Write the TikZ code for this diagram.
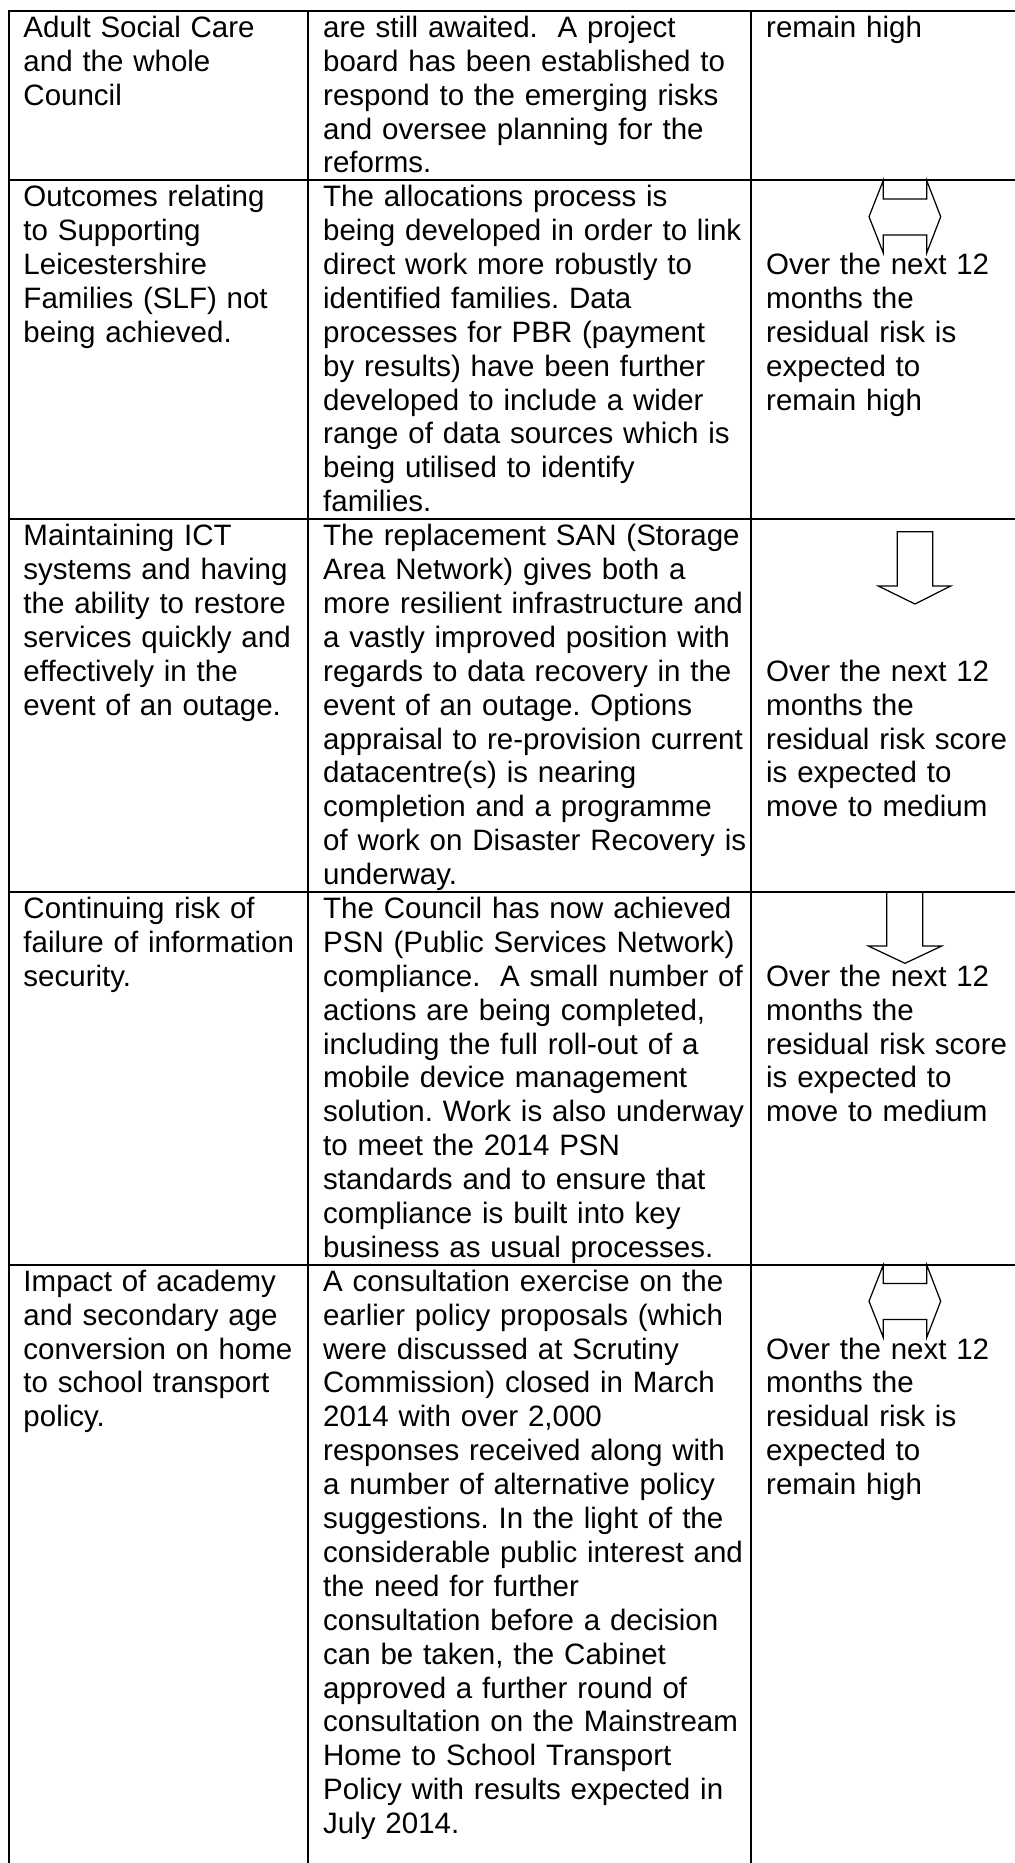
\documentclass[tikz,border=0pt]{standalone}
\usepackage{fontspec}
\setmainfont{Liberation Sans}
\usepackage{tikz}
\frenchspacing

\begin{document}
\begin{tikzpicture}[x=0.4068pt, y=-0.4068pt,
  cell/.style={anchor=base west, inner sep=0pt, align=left, font=\fontsize{12pt}{13.79pt}\selectfont\frenchspacing},
  riskcell/.style={cell, text width=122pt},
  notecell/.style={cell, text width=180pt},
  trendcell/.style={cell, text width=106pt},
  rule/.style={line width=0.75pt},
  trend/.style={line width=0.5pt, line join=miter}]
\useasboundingbox (0,0) rectangle (1015,1863);

\draw[rule] (9,1863) -- (9,11) -- (1015,11) ;
\draw[rule] (307.7,11) -- (307.7,1863) ;
\draw[rule] (751,11) -- (751,1863) ;
\draw[rule] (9,180.4) -- (1015,180.4) ;
\draw[rule] (9,519.3) -- (1015,519.3) ;
\draw[rule] (9,892.1) -- (1015,892.1) ;
\draw[rule] (9,1264.9) -- (1015,1264.9) ;

\node(adultrisk) at (23, 37.3) [riskcell] {Adult Social Care\\and the whole\\Council} ;
\node(adultnote) at (322.7, 37.3) [notecell] {are still awaited.\ \ A project\\board has been established to\\respond to the emerging risks\\and oversee planning for the\\reforms.} ;
\node(adulttrend) at (765.7, 37.3) [trendcell] {remain high} ;

\node(slfrisk) at (23, 206.7) [riskcell] {Outcomes relating\\to Supporting\\Leicestershire\\Families (SLF) not\\being achieved.} ;
\node(slfnote) at (322.7, 206.7) [notecell] {The allocations process is\\being developed in order to link\\direct work more robustly to\\identified families. Data\\processes for PBR (payment\\by results) have been further\\developed to include a wider\\range of data sources which is\\being utilised to identify\\families.} ;
\node(slftrend) at (765.7, 274.5) [trendcell] {Over the next 12\\months the\\residual risk is\\expected to\\remain high} ;
\draw[trend] (883.3,199) -- (926.7,199) -- (926.7,180.4) -- (940.7,216.7) -- (926.7,253) -- (926.7,235) -- (883.3,235) -- (883.3,253) -- (869,216.7) -- (883.3,180.4) -- cycle ;

\node(ictrisk) at (23, 545.6) [riskcell] {Maintaining ICT\\systems and having\\the ability to restore\\services quickly and\\effectively in the\\event of an outage.} ;
\node(ictnote) at (322.7, 545.6) [notecell] {The replacement SAN (Storage\\Area Network) gives both a\\more resilient infrastructure and\\a vastly improved position with\\regards to data recovery in the\\event of an outage. Options\\appraisal to re-provision current\\datacentre(s) is nearing\\completion and a programme\\of work on Disaster Recovery is\\underway.} ;
\node(icttrend) at (765.7, 681.2) [trendcell] {Over the next 12\\months the\\residual risk score\\is expected to\\move to medium} ;
\draw[trend] (897.3,531.7) -- (932.7,531.7) -- (932.7,586) -- (950.7,586) -- (915,604) -- (878.3,586) -- (897.3,586) -- cycle ;

\node(secrisk) at (23, 918.4) [riskcell] {Continuing risk of\\failure of information\\security.} ;
\node(secnote) at (322.7, 918.4) [notecell] {The Council has now achieved\\PSN (Public Services Network)\\compliance.\ \ A small number of\\actions are being completed,\\including the full roll-out of a\\mobile device management\\solution. Work is also underway\\to meet the 2014 PSN\\standards and to ensure that\\compliance is built into key\\business as usual processes.} ;
\node(sectrend) at (765.7, 986.2) [trendcell] {Over the next 12\\months the\\residual risk score\\is expected to\\move to medium} ;
\draw[trend] (886.7,892.1) -- (922.7,892.1) -- (922.7,946) -- (941.7,946) -- (905,963.3) -- (868.3,946) -- (886.7,946) -- cycle ;

\node(transrisk) at (23, 1291.2) [riskcell] {Impact of academy\\and secondary age\\conversion on home\\to school transport\\policy.} ;
\node(transnote) at (322.7, 1291.2) [notecell] {A consultation exercise on the\\earlier policy proposals (which\\were discussed at Scrutiny\\Commission) closed in March\\2014 with over 2,000\\responses received along with\\a number of alternative policy\\suggestions. In the light of the\\considerable public interest and\\the need for further\\consultation before a decision\\can be taken, the Cabinet\\approved a further round of\\consultation on the Mainstream\\Home to School Transport\\Policy with results expected in\\July 2014.} ;
\node(transtrend) at (765.7, 1359) [trendcell] {Over the next 12\\months the\\residual risk is\\expected to\\remain high} ;
\draw[trend] (883.3,1283.5) -- (926.7,1283.5) -- (926.7,1264.9) -- (940.7,1301.2) -- (926.7,1337.5) -- (926.7,1319.5) -- (883.3,1319.5) -- (883.3,1337.5) -- (869,1301.2) -- (883.3,1264.9) -- cycle ;
\end{tikzpicture}
\end{document}
